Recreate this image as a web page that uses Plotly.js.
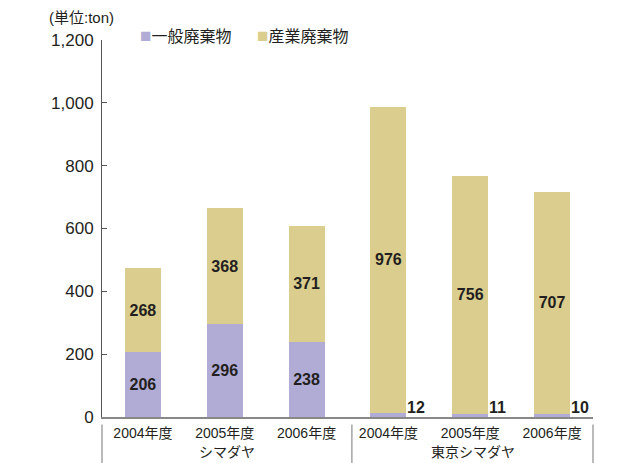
<!DOCTYPE html>
<html><head><meta charset="utf-8">
<script src="https://cdn.plot.ly/plotly-3.0.1.min.js"></script>
<style>body{margin:0;background:#fff}#c{width:624px;height:463px}</style>
</head><body><div id="c"></div>
<script>
const categories = ["S2004","S2005","S2006","T2004","T2005","T2006"];
const tickLabels = ["2004年度","2005年度","2006年度","2004年度","2005年度","2006年度"];
const groups = ["シマダヤ","東京シマダヤ"];
const general = [206, 296, 238, 12, 11, 10];
const industrial = [268, 368, 371, 976, 756, 707];
const seriesNames = ["一般廃棄物","産業廃棄物"];
const seriesColors = ["#b1acd5","#dbcd8e"];

const FONT = "Liberation Sans, Arial, Noto Sans CJK JP, sans-serif";
const TXT = '#231f20';
const inside = general.map(v => v >= 100);

const traces = [
  {type:'bar', name:seriesNames[0], x:categories, y:general,
   marker:{color:seriesColors[0]}, width:0.44,
   text:general.map((v,i)=>inside[i]?String(v):''), textposition:'inside', insidetextanchor:'middle',
   textfont:{family:FONT,size:16,color:TXT,weight:'bold'}, hoverinfo:'none'},
  {type:'bar', name:seriesNames[1], x:categories, y:industrial,
   marker:{color:seriesColors[1]}, width:0.44,
   text:industrial.map(String), textposition:'inside', insidetextanchor:'middle',
   textfont:{family:FONT,size:16,color:TXT,weight:'bold'}, hoverinfo:'none'}
];

const annotations = [
  {xref:'paper', yref:'paper', x:-0.112, y:1.061, xanchor:'left', yanchor:'middle',
   text:'(単位:ton)', showarrow:false, font:{family:FONT,size:15,color:TXT}}
];
// legend drawn as annotations
const legX = [0.074, 0.312];
seriesNames.forEach((n,i)=>annotations.push({xref:'paper', yref:'paper', x:legX[i], y:1.013,
  xanchor:'left', yanchor:'middle', showarrow:false,
  text:'<span style="color:'+seriesColors[i]+';font-size:19px">■</span>'+n,
  font:{family:FONT,size:16,color:TXT}}));
categories.forEach((c,i)=>{
  if(!inside[i]) annotations.push({x:c, y:0, xref:'x', yref:'y', xanchor:'left', yanchor:'bottom',
    xshift:17, yshift:-1, text:'<b>'+general[i]+'</b>', showarrow:false,
    font:{family:FONT,size:16,color:TXT}});
});
annotations.push({xref:'paper', yref:'paper', x:0.255, y:-0.093, xanchor:'center', yanchor:'middle',
  text:groups[0], showarrow:false, font:{family:FONT,size:14,color:TXT}});
annotations.push({xref:'paper', yref:'paper', x:0.755, y:-0.093, xanchor:'center', yanchor:'middle',
  text:groups[1], showarrow:false, font:{family:FONT,size:14,color:TXT}});

const divLine = {color:'#777', width:1};
const shapes = [0, 0.509, 1.0].map(x=>({type:'line', xref:'paper', yref:'paper',
  x0:x, x1:x, y0:-0.02, y1:-0.13, line:divLine}));

const layout = {
  width:624, height:463, barmode:'stack', showlegend:false,
  margin:{l:102, r:31, t:40, b:46},
  paper_bgcolor:'#fff', plot_bgcolor:'#fff',
  font:{family:FONT, size:14, color:TXT},
  xaxis:{type:'category', tickvals:categories, ticktext:tickLabels, showline:true,
    linecolor:'#888', linewidth:1.5, ticks:'', showgrid:false, zeroline:false, ticklabelstandoff:3,
    tickfont:{family:FONT,size:14,color:TXT}, fixedrange:true},
  yaxis:{range:[0,1200], dtick:200, tickformat:',d', showline:true, linecolor:'#555', linewidth:1,
    ticks:'inside', ticklen:5, tickcolor:'#555', showgrid:false, zeroline:false, ticklabelstandoff:4,
    tickfont:{family:FONT,size:17,color:TXT}, fixedrange:true},
  annotations:annotations, shapes:shapes, bargap:0.56
};
Plotly.newPlot('c', traces, layout, {displayModeBar:false, staticPlot:true});
</script></body></html>
